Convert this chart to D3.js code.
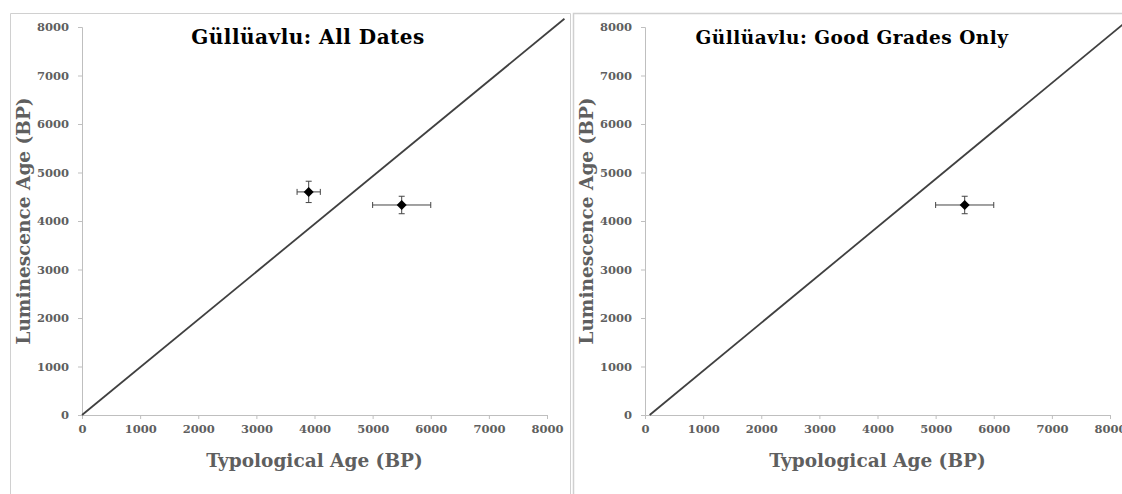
<!DOCTYPE html>
<html><head><meta charset="utf-8">
<script src="https://cdn.jsdelivr.net/npm/d3@7"></script>
<style>body{margin:0;background:#fff;}svg{display:block;}</style>
</head><body>
<svg id="c" width="1122" height="494"></svg>
<script>
const ticks = [0,1000,2000,3000,4000,5000,6000,7000,8000];
const titleAll = "Güllüavlu: All Dates";
const titleGood = "Güllüavlu: Good Grades Only";
const xLabel = "Typological Age (BP)";
const yLabel = "Luminescence Age (BP)";
const allX = [3900, 5500];
const allY = [4600, 4330];
const allXErr = [200, 500];
const allYErr = [220, 180];
const goodX = [5500];
const goodY = [4330];
const goodXErr = [500];
const goodYErr = [180];
const lineAll = [[0,0],[8300,8170]];
const lineGood = [[80,0],[8300,8130]];

const svg = d3.select("#c");
const FONT = "'DejaVu Serif', serif";
const gray = "#5f5f5f";

// panel borders
svg.append("path").attr("d","M10.5,494 V13.5 H570.5 V494").attr("fill","none").attr("stroke","#d0d0d0");
svg.append("path").attr("d","M573.5,494 V13.5 H1122").attr("fill","none").attr("stroke","#d0d0d0").attr("stroke-width",1.5);

function panel(cfg){
  const x = d3.scaleLinear().domain([0,8000]).range([cfg.x0, cfg.x1]);
  const y = d3.scaleLinear().domain([0,8000]).range([415, 27]);
  const g = svg.append("g");
  const xa = g.append("g").attr("transform","translate(0,415)")
    .call(d3.axisBottom(x).tickValues(ticks).tickSize(4).tickPadding(6).tickFormat(d3.format("d")));
  const ya = g.append("g").attr("transform",`translate(${cfg.x0},0)`)
    .call(d3.axisLeft(y).tickValues(ticks).tickSize(4).tickPadding(9).tickFormat(d3.format("d")));
  [xa,ya].forEach(a=>{
    a.selectAll("path,line").attr("stroke","#bfbfbf");
    a.selectAll("text").attr("fill",gray).style("font-family",FONT).style("font-size","11.5px")
      .style("font-weight","bold");
  });
  // 1:1 line
  g.append("line").attr("x1",x(cfg.line[0][0])).attr("y1",y(cfg.line[0][1]))
    .attr("x2",x(cfg.line[1][0])).attr("y2",y(cfg.line[1][1]))
    .attr("stroke","#404040").attr("stroke-width",1.8);
  // error bars + markers
  cfg.px.forEach((v,i)=>{
    const cx=x(v), cy=y(cfg.py[i]);
    const xl=x(v-cfg.xe[i]), xr=x(v+cfg.xe[i]);
    const yt=y(cfg.py[i]+cfg.ye[i]), yb=y(cfg.py[i]-cfg.ye[i]);
    const eg=g.append("g").attr("stroke","#444").attr("stroke-width",1);
    eg.append("line").attr("x1",xl).attr("x2",xr).attr("y1",cy).attr("y2",cy);
    eg.append("line").attr("x1",xl).attr("x2",xl).attr("y1",cy-3).attr("y2",cy+3);
    eg.append("line").attr("x1",xr).attr("x2",xr).attr("y1",cy-3).attr("y2",cy+3);
    eg.append("line").attr("x1",cx).attr("x2",cx).attr("y1",yt).attr("y2",yb);
    eg.append("line").attr("x1",cx-3).attr("x2",cx+3).attr("y1",yt).attr("y2",yt);
    eg.append("line").attr("x1",cx-3).attr("x2",cx+3).attr("y1",yb).attr("y2",yb);
    g.append("path").attr("d",d3.symbol(d3.symbolDiamond2,64)()).attr("transform",`translate(${cx},${cy})`).attr("fill","#000");
  });
  g.append("text").attr("x",cfg.tx).attr("y",44).attr("text-anchor","middle").text(cfg.title)
    .style("font-family",FONT).style("font-weight","bold").style("font-size",cfg.ts)
    .style("letter-spacing","0.5px").attr("fill","#000");
  g.append("text").attr("x",(cfg.x0+cfg.x1)/2).attr("y",467).attr("text-anchor","middle").text(xLabel)
    .style("font-family",FONT).style("font-weight","bold").style("font-size","18.5px").attr("fill",gray);
  g.append("text").attr("transform",`translate(${cfg.x0-52},221) rotate(-90)`).attr("text-anchor","middle").text(yLabel)
    .style("font-family",FONT).style("font-weight","bold").style("font-size","18.5px").attr("fill",gray);
}
panel({x0:82,x1:547,line:lineAll,px:allX,py:allY,xe:allXErr,ye:allYErr,title:titleAll,tx:308,ts:"20px"});
panel({x0:645,x1:1110,line:lineGood,px:goodX,py:goodY,xe:goodXErr,ye:goodYErr,title:titleGood,tx:852,ts:"18.5px"});
</script>
</body></html>
